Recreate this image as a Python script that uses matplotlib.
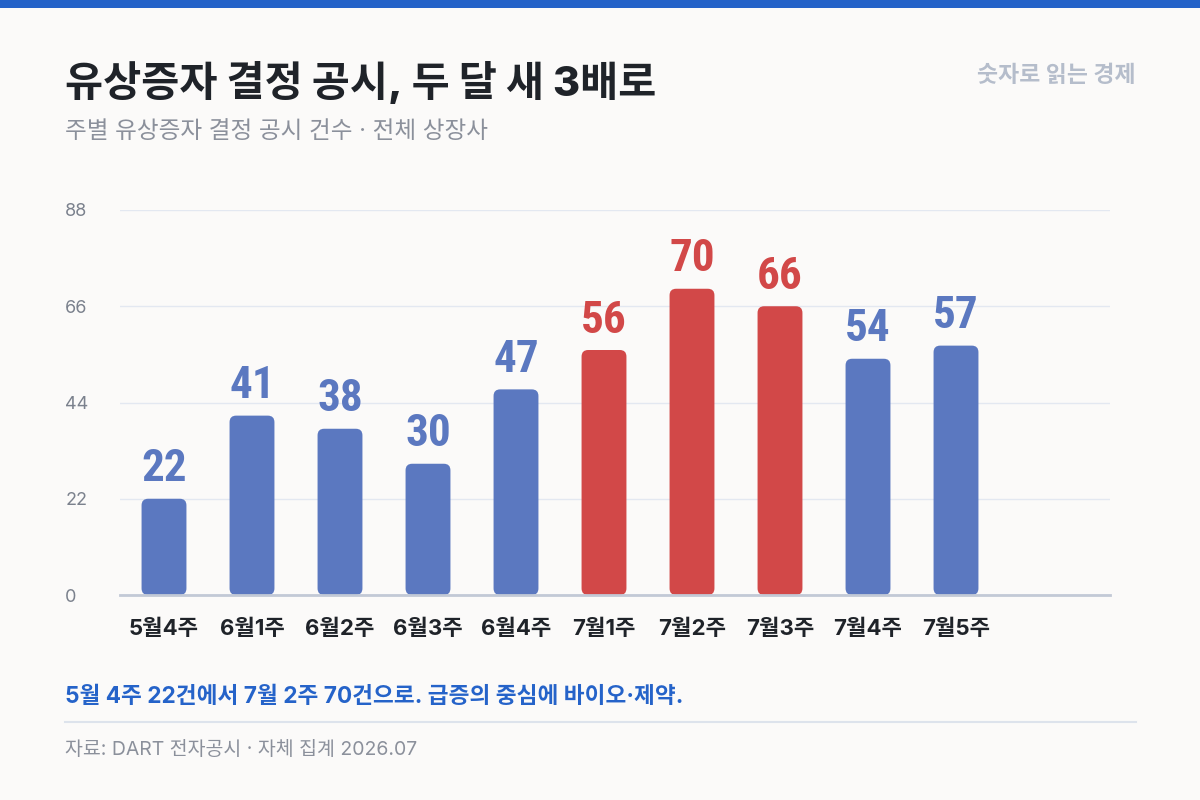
import matplotlib
matplotlib.use("Agg")
import matplotlib.pyplot as plt
from matplotlib.patches import FancyBboxPatch, Rectangle
from matplotlib import font_manager

weeks = ["5월4주", "6월1주", "6월2주", "6월3주", "6월4주",
         "7월1주", "7월2주", "7월3주", "7월4주", "7월5주"]
counts = [22, 41, 38, 30, 47, 56, 70, 66, 54, 57]
highlight = [False, False, False, False, False, True, True, True, False, False]
yticks = [0, 22, 44, 66, 88]

BLUE = "#5b78c0"
RED = "#d24848"
BG = "#fbfaf9"

names = {f.name for f in font_manager.fontManager.ttflist}
num_font = next((n for n in ['Roboto Condensed', 'Liberation Sans Narrow', 'Anton'] if n in names),
                'DejaVu Sans')
plt.rcParams['font.family'] = ['Inter', 'Noto Sans CJK KR', 'DejaVu Sans']

fig = plt.figure(figsize=(12, 8), dpi=100, facecolor=BG)
ax = fig.add_axes([0.10, 1 - 595 / 800, 0.825, 385 / 800])
ax.set_facecolor(BG)

# top stripe
fig.patches.append(Rectangle((0, 1 - 8 / 800), 1, 8 / 800, transform=fig.transFigure,
                             facecolor="#2462c8", edgecolor="none"))

colors = [RED if h else BLUE for h in highlight]
bars = ax.bar(range(len(counts)), counts, width=0.51, color=colors, zorder=3)

ax.set_xlim(-0.5, 10.75)
ax.set_ylim(0, 88)
fig.canvas.draw()
# rounded bars
p0 = ax.transData.transform((0, 0))
p1 = ax.transData.transform((1, 1))
aspect = (p1[0] - p0[0]) / (p1[1] - p0[1])
for b, c in zip(bars, colors):
    x, y, w, h = b.get_x(), b.get_y(), b.get_width(), b.get_height()
    r = 0.075
    fb = FancyBboxPatch((x + r, y + r * aspect), w - 2 * r, h - 2 * r * aspect,
                        boxstyle=f"round,pad={r},rounding_size={r}",
                        mutation_aspect=aspect, facecolor=c, edgecolor="none", zorder=3)
    ax.add_patch(fb)
    b.remove()

for i, (v, c) in enumerate(zip(counts, colors)):
    ax.annotate(str(v), (i, v), xytext=(0, 12.5), textcoords="offset points",
                ha="center", va="baseline", fontsize=32.5, fontweight="heavy",
                family=[num_font, 'DejaVu Sans'], color=c)

ax.set_yticks(yticks)
ax.set_yticklabels([str(t) for t in yticks], fontsize=13, color="#7b818d", ha="left")
ax.tick_params(axis="y", length=0, pad=39.5)
ax.set_xticks(range(len(weeks)))
ax.set_xticklabels(weeks, fontsize=16, fontweight="bold", color="#1f2329")
ax.tick_params(axis="x", length=0, pad=17)
ax.grid(axis="y", color="#e3e8f1", linewidth=1, zorder=0)
for s in ["top", "right", "left"]:
    ax.spines[s].set_visible(False)
ax.spines["bottom"].set_color("#c2c9d6")
ax.spines["bottom"].set_linewidth(2)
ax.spines["bottom"].set_zorder(4)

fig.text(65 / 1200, 1 - 82 / 800, "유상증자 결정 공시, 두 달 새 3배로", fontsize=29.8,
         fontweight="heavy", color="#1f2329", va="center")
fig.text(65 / 1200, 1 - 132 / 800, "주별 유상증자 결정 공시 건수 · 전체 상장사", fontsize=17,
         color="#8b909b", va="center")
fig.text(1136 / 1200, 1 - 76 / 800, "숫자로 읽는 경제", fontsize=16.5, fontweight="bold",
         color="#b5bdcb", va="center", ha="right")
fig.text(65 / 1200, 1 - 697 / 800, "5월 4주 22건에서 7월 2주 70건으로. 급증의 중심에 바이오·제약.",
         fontsize=16.3, fontweight="bold", color="#2563c9", va="center")
fig.add_artist(plt.Line2D([65 / 1200, 1136 / 1200], [1 - 722 / 800] * 2,
                          color="#dde3ec", linewidth=1.5))
fig.text(65 / 1200, 1 - 750 / 800, "자료: DART 전자공시 · 자체 집계 2026.07", fontsize=14,
         color="#8b909b", va="center")

fig.savefig("out.png", dpi=100, facecolor=BG)
